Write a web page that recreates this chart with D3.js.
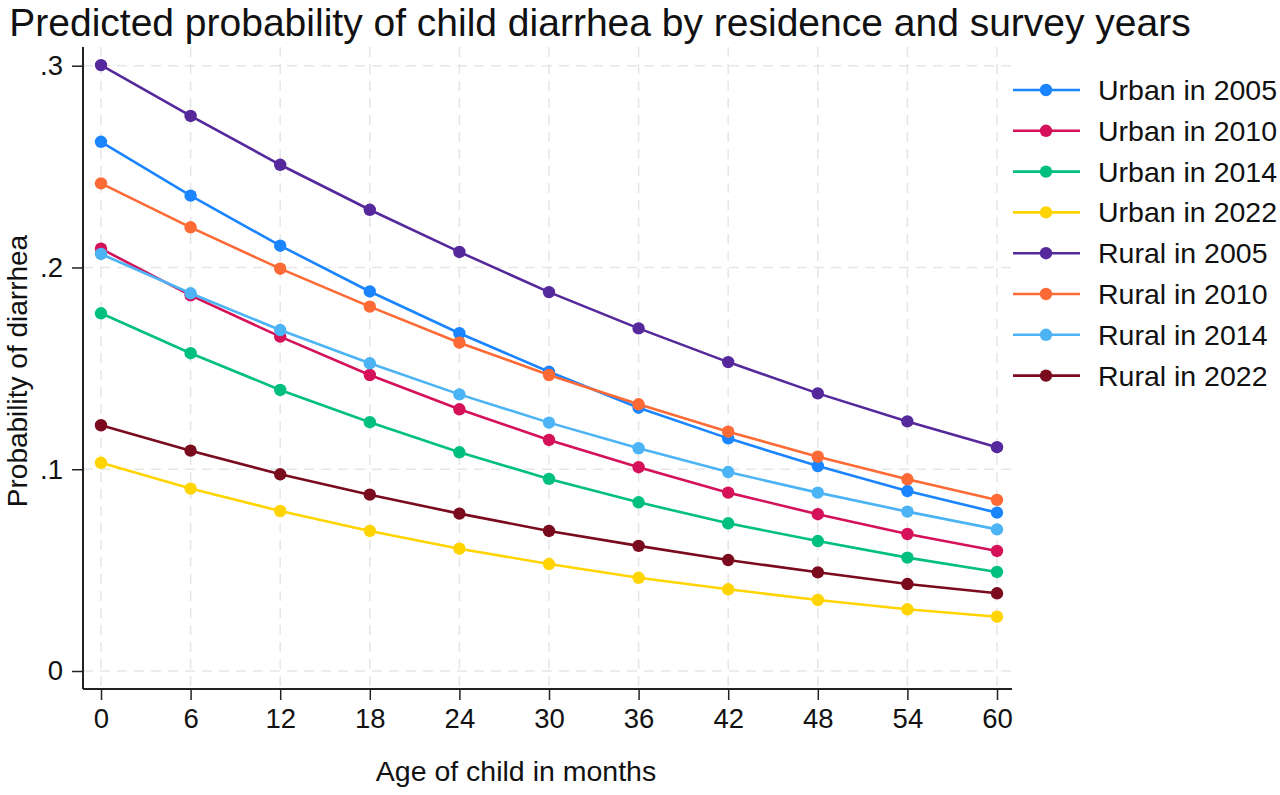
<!DOCTYPE html>
<html>
<head>
<meta charset="utf-8">
<title>Predicted probability of child diarrhea</title>
<style>
  body { margin: 0; background: #fff; }
  text { font-family: Arial, "Liberation Sans", sans-serif; fill: #111; }
</style>
</head>
<body>
<script src="https://cdn.jsdelivr.net/npm/d3@7/dist/d3.min.js"></script>
<script>
// data
var ages = [0, 6, 12, 18, 24, 30, 36, 42, 48, 54, 60];

var seriesNames = ["Urban in 2005", "Urban in 2010", "Urban in 2014", "Urban in 2022",
                   "Rural in 2005", "Rural in 2010", "Rural in 2014", "Rural in 2022"];

var urban2005 = [.2623, .2356, .2108, .1881, .1674, .1483, .1305, .1153, .1016, .0892, .0785];
var urban2010 = [.2093, .1862, .1657, .1467, .1297, .1145, .1010, .0884, .0777, .0679, .0595];
var urban2014 = [.1773, .1575, .1393, .1233, .1084, .0952, .0836, .0732, .0644, .0562, .0491];
var urban2022 = [.1032, .0904, .0793, .0694, .0606, .0530, .0462, .0405, .0352, .0306, .0269];
var rural2005 = [.3003, .2751, .2509, .2286, .2077, .1878, .1698, .1531, .1376, .1237, .1109];
var rural2010 = [.2417, .2199, .1994, .1806, .1627, .1467, .1322, .1186, .1062, .0950, .0848];
var rural2014 = [.2067, .1872, .1690, .1525, .1371, .1231, .1104, .0986, .0884, .0790, .0702];
var rural2022 = [.1218, .1092, .0975, .0874, .0780, .0694, .0620, .0550, .0489, .0431, .0385];

var xTicks = [0, 6, 12, 18, 24, 30, 36, 42, 48, 54, 60];
var yTicks = [0, .1, .2, .3];
var yTickLabels = ["0", ".1", ".2", ".3"];

var colors = ["#1a85ff", "#d41159", "#00bf7f", "#ffd400",
              "#55289c", "#fd6a35", "#4cb4f5", "#7a0a1e"];

var allSeries = [urban2005, urban2010, urban2014, urban2022,
                 rural2005, rural2010, rural2014, rural2022];

// layout
var W = 1280, H = 795;
var plot = {left: 83, right: 1012, top: 47, bottom: 689};

var svg = d3.select("body").append("svg")
  .attr("width", W)
  .attr("height", H);

var x = d3.scaleLinear().domain([0, 60]).range([101, 997]);
var y = d3.scaleLinear().domain([0, .3]).range([671, 65.7]);

// grid
var grid = svg.append("g")
  .attr("stroke", "#e6e6e6")
  .attr("stroke-width", 1.5)
  .attr("stroke-dasharray", "10,7");

grid.selectAll("line.v")
  .data(xTicks)
  .enter().append("line")
  .attr("class", "v")
  .attr("x1", function(d) { return x(d); })
  .attr("x2", function(d) { return x(d); })
  .attr("y1", plot.top)
  .attr("y2", plot.bottom);

grid.selectAll("line.h")
  .data(yTicks)
  .enter().append("line")
  .attr("class", "h")
  .attr("x1", plot.left)
  .attr("x2", plot.right)
  .attr("y1", function(d) { return y(d); })
  .attr("y2", function(d) { return y(d); });

// axes
var xAxis = d3.axisBottom(x).tickValues(xTicks).tickSize(11).tickPadding(8)
  .tickFormat(d3.format("d"));
var gx = svg.append("g")
  .attr("transform", "translate(0," + plot.bottom + ")")
  .call(xAxis);
gx.select(".domain").remove();
gx.append("line")
  .attr("x1", plot.left).attr("x2", plot.right)
  .attr("stroke", "#222").attr("stroke-width", 2);

var yAxis = d3.axisLeft(y).tickValues(yTicks).tickSize(11).tickPadding(9)
  .tickFormat(function(d, i) { return yTickLabels[i]; });
var gy = svg.append("g")
  .attr("transform", "translate(" + plot.left + ",0)")
  .call(yAxis);
gy.select(".domain").remove();
gy.append("line")
  .attr("y1", plot.top).attr("y2", plot.bottom)
  .attr("stroke", "#222").attr("stroke-width", 2);

svg.selectAll(".tick line").attr("stroke", "#222").attr("stroke-width", 1.5);
svg.selectAll(".tick text")
  .style("font-family", "Arial, 'Liberation Sans', sans-serif")
  .style("font-size", "27.5px")
  .attr("fill", "#111");

// lines and markers
var line = d3.line()
  .x(function(d, i) { return x(ages[i]); })
  .y(function(d) { return y(d); });

allSeries.forEach(function(vals, k) {
  svg.append("path")
    .datum(vals)
    .attr("fill", "none")
    .attr("stroke", colors[k])
    .attr("stroke-width", 2.6)
    .attr("d", line);
  svg.selectAll("circle.s" + k)
    .data(vals)
    .enter().append("circle")
    .attr("class", "s" + k)
    .attr("cx", function(d, i) { return x(ages[i]); })
    .attr("cy", function(d) { return y(d); })
    .attr("r", 6.2)
    .attr("fill", colors[k]);
});

// titles
svg.append("text")
  .attr("x", 600)
  .attr("y", 36)
  .attr("text-anchor", "middle")
  .style("font-size", "39px")
  .text("Predicted probability of child diarrhea by residence and survey years");

svg.append("text")
  .attr("x", 516)
  .attr("y", 781)
  .attr("text-anchor", "middle")
  .style("font-size", "28.5px")
  .text("Age of child in months");

svg.append("text")
  .attr("transform", "translate(27,371) rotate(-90)")
  .attr("text-anchor", "middle")
  .style("font-size", "28px")
  .text("Probability of diarrhea");

// legend
var legend = svg.append("g");
var item = legend.selectAll("g")
  .data(seriesNames)
  .enter().append("g")
  .attr("transform", function(d, i) { return "translate(0," + (90 + i * 40.8) + ")"; });

item.append("line")
  .attr("x1", 1013).attr("x2", 1080)
  .attr("stroke", function(d, i) { return colors[i]; })
  .attr("stroke-width", 2.6);
item.append("circle")
  .attr("cx", 1046).attr("r", 6.2)
  .attr("fill", function(d, i) { return colors[i]; });
item.append("text")
  .attr("x", 1098)
  .attr("y", 10)
  .style("font-size", "28.5px")
  .text(function(d) { return d; });
</script>
</body>
</html>
